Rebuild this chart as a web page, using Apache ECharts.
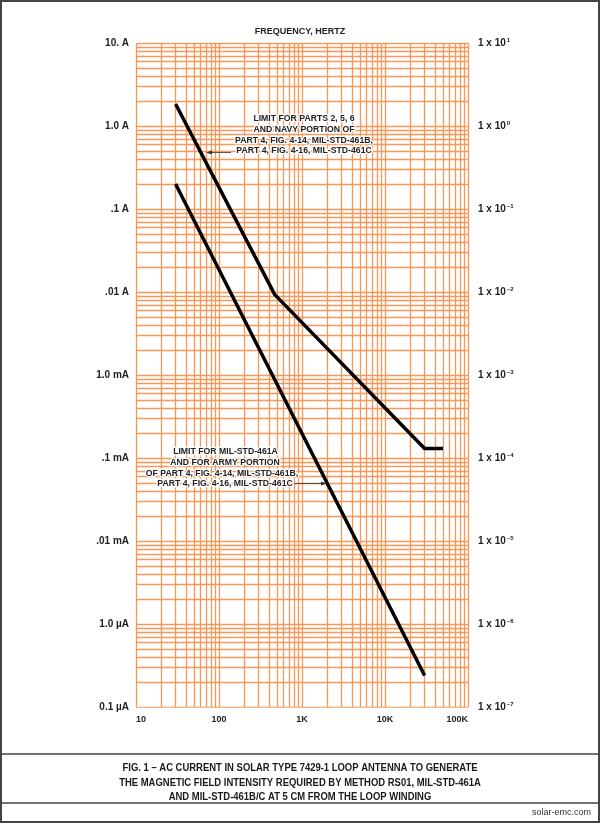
<!DOCTYPE html>
<html>
<head>
<meta charset="utf-8">
<script src="https://cdn.jsdelivr.net/npm/echarts@6/dist/echarts.min.js"></script>
<style>
html,body{margin:0;padding:0;background:#fff;}
#chart{width:600px;height:823px;}
</style>
</head>
<body>
<div id="chart"></div>
<script>
// ---- Data ----
const upperFreq = [30, 470, 30000, 50000];
const upperAmps = [1.84, 0.0093, 1.3e-4, 1.3e-4];
const lowerFreq = [30, 30000];
const lowerAmps = [0.2, 2.4e-7];

const xTickValues = [10, 100, 1000, 10000, 100000];
const xTickLabels = ['10', '100', '1K', '10K', '100K'];
const yTickValues = [1e-7, 1e-6, 1e-5, 1e-4, 1e-3, 1e-2, 1e-1, 1, 10];
const yLeftLabels = ['0.1 \u00b5A', '1.0 \u00b5A', '.01 mA', '.1 mA', '1.0 mA', '.01 A', '.1 A', '1.0 A', '10. A'];
const yRightExponents = ['-7', '-6', '-5', '-4', '-3', '-2', '-1', '0', '1'];
const gridMultipliers = [1, 2, 3, 4, 5, 6, 7, 8, 9];
const xDecades = [10, 100, 1000, 10000];
const yDecades = [1e-7, 1e-6, 1e-5, 1e-4, 1e-3, 1e-2, 1e-1, 1];

const titleText = 'FREQUENCY, HERTZ';
const captionLines = [
  'FIG. 1 \u2013 AC CURRENT IN SOLAR TYPE 7429-1 LOOP ANTENNA TO GENERATE',
  'THE MAGNETIC FIELD INTENSITY REQUIRED BY METHOD RS01, MIL-STD-461A',
  'AND MIL-STD-461B/C AT 5 CM FROM THE LOOP WINDING'
];
const note1 = ['LIMIT FOR PARTS 2, 5, 6', 'AND NAVY PORTION OF', 'PART 4, FIG. 4-14, MIL-STD-461B,', 'PART 4, FIG. 4-16, MIL-STD-461C'];
const note2 = ['LIMIT FOR MIL-STD-461A', 'AND FOR ARMY PORTION', 'OF PART 4, FIG. 4-14, MIL-STD-461B,', 'PART 4, FIG. 4-16, MIL-STD-461C'];

// ---- Build ----
const X_MIN = 10, X_MAX = 100000, Y_MIN = 1e-7, Y_MAX = 10;
const xGrid = [];
xDecades.forEach(d => gridMultipliers.forEach(m => xGrid.push(d * m)));
xGrid.push(X_MAX);
const yGrid = [];
yDecades.forEach(d => gridMultipliers.forEach(m => yGrid.push(d * m)));
yGrid.push(Y_MAX);
const gridSegments = xGrid.map(v => ({coords: [[v, Y_MIN], [v, Y_MAX]]}))
  .concat(yGrid.map(v => ({coords: [[X_MIN, v], [X_MAX, v]]})));

const expOf = v => Math.round(Math.log10(v));
const lookup = (vals, labels) => v => {
  const e = expOf(v);
  for (let i = 0; i < vals.length; i++) if (expOf(vals[i]) === e) return labels[i];
  return '';
};
const rightFormatter = v => {
  const e = lookup(yTickValues, yRightExponents)(v);
  return '{b|1 x 10}{s|' + e.replace('-', '\u2013') + '}';
};

const gridColor = '#F59250';
const FONT = '"Liberation Sans", Arial, sans-serif';

const chart = echarts.init(document.getElementById('chart'), null, {renderer: 'canvas'});

const textEl = (t, x, y, size) => ({
  type: 'text', z: 50,
  style: {
    text: t, x: x, y: y,
    font: 'bold ' + size + 'px ' + FONT,
    fill: '#222', stroke: '#fff', lineWidth: 2.5,
    textAlign: 'center', textVerticalAlign: 'middle'
  }
});

const graphics = [
  {type: 'rect', z: 100, shape: {x: 1, y: 1, width: 598, height: 821}, style: {fill: 'none', stroke: '#444', lineWidth: 2}},
  {type: 'line', z: 100, shape: {x1: 0, y1: 754, x2: 600, y2: 754}, style: {stroke: '#444', lineWidth: 1.5}},
  {type: 'line', z: 100, shape: {x1: 0, y1: 803, x2: 600, y2: 803}, style: {stroke: '#444', lineWidth: 1.5}},
  {type: 'text', z: 100, style: {text: 'solar-emc.com', x: 591, y: 813, font: '9px ' + FONT, fill: '#333', textAlign: 'right', textVerticalAlign: 'middle'}},
  // arrows
  {type: 'line', z: 50, shape: {x1: 231, y1: 152.5, x2: 210, y2: 152.5}, style: {stroke: '#333', lineWidth: 0.8}},
  {type: 'polygon', z: 50, shape: {points: [[206, 152.5], [212, 150.5], [212, 154.5]]}, style: {fill: '#333'}},
  {type: 'line', z: 50, shape: {x1: 292, y1: 483.5, x2: 322, y2: 483.5}, style: {stroke: '#333', lineWidth: 0.8}},
  {type: 'polygon', z: 50, shape: {points: [[327, 483.5], [321, 481.5], [321, 485.5]]}, style: {fill: '#333'}}
];
const n1y = [118.5, 129.5, 140.5, 151];
note1.forEach((t, i) => graphics.push(textEl(t, 304, n1y[i], 8.7)));
const n2y = [451.5, 462.5, 473.5, 484];
const n2x = [225.5, 225, 222, 225];
note2.forEach((t, i) => graphics.push(textEl(t, n2x[i], n2y[i], 8.7)));
const capY = [767.5, 782.5, 797];
captionLines.forEach((t, i) => graphics.push({
  type: 'text', z: 100, x: 300, y: capY[i], scaleX: 0.86,
  style: {text: t, x: 0, y: 0, font: 'bold 11px ' + FONT, fill: '#1a1a1a', textAlign: 'center', textVerticalAlign: 'middle'}
}));

const yAxisBase = {
  type: 'log', logBase: 10, min: Y_MIN, max: Y_MAX,
  axisLine: {show: false}, axisTick: {show: false}, splitLine: {show: false}, minorSplitLine: {show: false}
};

chart.setOption({
  animation: false,
  backgroundColor: '#fff',
  title: {
    text: titleText, left: 'center', top: 22,
    textStyle: {fontFamily: FONT, fontWeight: 'bold', fontSize: 9, color: '#222'}
  },
  grid: {left: 136, top: 43, width: 332, height: 664, containLabel: false},
  xAxis: {
    type: 'log', logBase: 10, min: X_MIN, max: X_MAX,
    axisLine: {show: false}, axisTick: {show: false}, splitLine: {show: false},
    axisLabel: {
      customValues: xTickValues,
      formatter: lookup(xTickValues, xTickLabels),
      fontFamily: FONT, fontWeight: 'bold', fontSize: 9, color: '#222', margin: 8,
      alignMinLabel: 'left', alignMaxLabel: 'right', hideOverlap: false
    }
  },
  yAxis: [
    Object.assign({}, yAxisBase, {
      position: 'left',
      axisLabel: {customValues: yTickValues, formatter: lookup(yTickValues, yLeftLabels),
        fontFamily: FONT, fontWeight: 'bold', fontSize: 10, color: '#222', margin: 7,
        verticalAlignMinLabel: 'middle', verticalAlignMaxLabel: 'middle', hideOverlap: false}
    }),
    Object.assign({}, yAxisBase, {
      position: 'right',
      axisLabel: {customValues: yTickValues, formatter: rightFormatter,
        margin: 10, verticalAlignMinLabel: 'middle', verticalAlignMaxLabel: 'middle', hideOverlap: false,
        rich: {
          b: {fontFamily: FONT, fontWeight: 'bold', fontSize: 10, color: '#222', lineHeight: 12, verticalAlign: 'middle'},
          s: {fontFamily: FONT, fontWeight: 'bold', fontSize: 6, color: '#222', lineHeight: 12, verticalAlign: 'top', padding: [0, 0, 0, 1]}
        }}
    })
  ],
  series: [
    {
      type: 'lines', coordinateSystem: 'cartesian2d', z: 1, silent: true,
      polyline: false,
      lineStyle: {color: gridColor, width: 1.3, opacity: 0.95},
      data: gridSegments
    },
    {
      type: 'line', z: 10, showSymbol: false, symbol: 'none',
      data: upperFreq.map((f, i) => [f, upperAmps[i]]),
      lineStyle: {color: '#000', width: 3.5, cap: 'butt', join: 'round'}
    },
    {
      type: 'line', z: 10, showSymbol: false, symbol: 'none',
      data: lowerFreq.map((f, i) => [f, lowerAmps[i]]),
      lineStyle: {color: '#000', width: 3.5, cap: 'butt'}
    }
  ],
  graphic: graphics
});
</script>
</body>
</html>
